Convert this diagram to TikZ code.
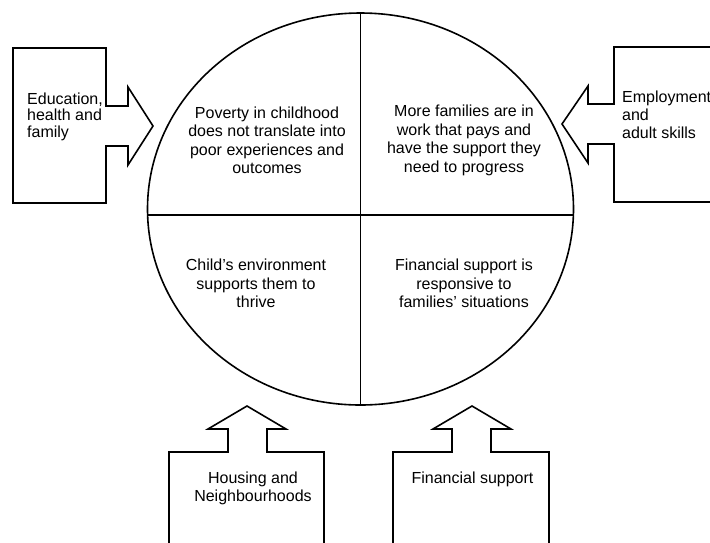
\documentclass[tikz,border=0pt]{standalone}
\usepackage{fontspec}
\setmainfont{Liberation Sans}
\begin{document}
\begin{tikzpicture}[x=1pt,y=-1pt,
  shapeline/.style={draw=black,line width=1.6pt,line join=miter,fill=white},
  quad/.style={align=center,inner sep=0pt,font=\fontsize{16}{18.5}\selectfont},
  sidetext/.style={align=left,inner sep=0pt,anchor=west},
  bottomtext/.style={align=center,inner sep=0pt,font=\fontsize{16}{18}\selectfont}]
\useasboundingbox (0,0) rectangle (710,542);
\clip (0,0) rectangle (710,542);
% ellipse and dividers
\draw[line width=1.6pt] (360.5,209) ellipse [x radius=213, y radius=196];
\coordinate (etop) at (360.5,13);
\coordinate (ebot) at (360.5,405);
\coordinate (eleft) at (147.6,215);
\coordinate (eright) at (573.4,215);
\draw[line width=1.6pt] (etop) -- (ebot);
\draw[line width=1.6pt] (eleft) -- (eright);
% left block arrow
\draw[shapeline] (13,48) -- (106,48) -- (106,106) -- (128,106) -- (128,87) -- (153,126) -- (128,165) -- (128,146) -- (106,146) -- (106,203) -- (13,203) -- cycle;
% right block arrow
\draw[shapeline] (712,47) -- (614,47) -- (614,104) -- (588,104) -- (588,86) -- (562,124) -- (588,163) -- (588,144) -- (614,144) -- (614,202) -- (712,202);
% bottom-left block arrow
\draw[shapeline] (169,545) -- (169,452) -- (228,452) -- (228,429) -- (208,429) -- (247,406) -- (286,429) -- (267,429) -- (267,452) -- (324,452) -- (324,545);
% bottom-right block arrow
\draw[shapeline] (393,545) -- (393,452) -- (452,452) -- (452,429) -- (433,429) -- (472,406) -- (511,429) -- (491,429) -- (491,452) -- (549,452) -- (549,545);
% quadrant texts
\node[quad] (q1) at (267,140.5) {Poverty in childhood\\does not translate into\\poor experiences and\\outcomes};
\node[quad] (q2) at (464,140.5) {More families are in\\work that pays and\\have the support they\\need to progress};
\node[quad] (q3) at (256,283.5) {Child’s environment\\supports them to\\thrive};
\node[quad] (q4) at (464,283.5) {Financial support is\\responsive to\\families’ situations};
% side texts
\node[sidetext,font=\fontsize{16}{16.5}\selectfont] (edu) at (27,116.5) {Education,\\health and\\family};
\node[sidetext,font=\fontsize{16}{18}\selectfont] (emp) at (622,115) {Employment\\and\\adult skills};
% bottom texts
\node[bottomtext] (hou) at (253,488) {Housing and\\Neighbourhoods};
\node[bottomtext] (fin) at (472.5,479) {Financial support};
\end{tikzpicture}
\end{document}
